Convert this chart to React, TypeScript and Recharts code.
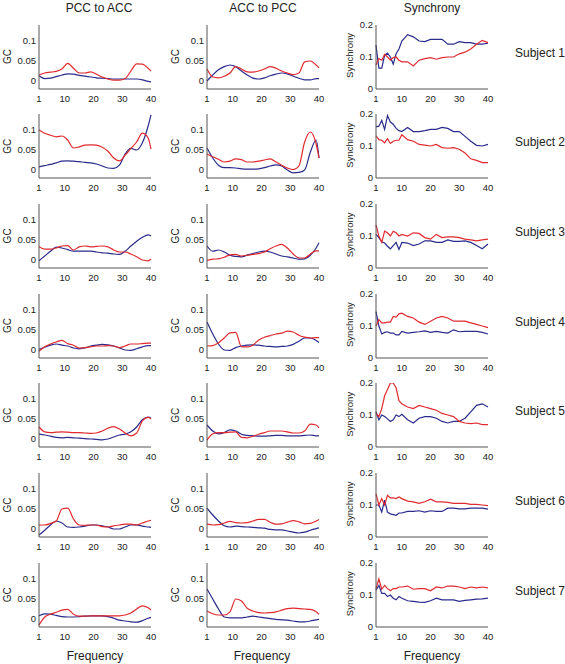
import React from 'react';
import { LineChart, Line, XAxis, YAxis } from 'recharts';

// frequencies sampled for the GC panels and for the synchrony panels
const GC_FREQ = [1, 3, 5, 7, 9, 11, 13, 15, 17, 19, 21, 23, 25, 27, 29, 31, 33, 35, 37, 39, 40];
const SYNC_FREQ = [1, 2, 3, 4, 5, 6, 7, 8, 9, 10, 12, 14, 16, 18, 20, 22, 24, 26, 28, 30, 32, 34, 36, 38, 40];
const FREQ_TICKS = [1, 10, 20, 30, 40];
const GC_TICKS = [0, 0.05, 0.1];
const SYNC_TICKS = [0, 0.1, 0.2];

const SUBJECTS = ['Subject 1', 'Subject 2', 'Subject 3', 'Subject 4', 'Subject 5', 'Subject 6', 'Subject 7'];
const COLUMN_TITLES = ['PCC to ACC', 'ACC to PCC', 'Synchrony'];

// one row per subject
const pccToAccRed = [
  [0.015, 0.02, 0.022, 0.024, 0.03, 0.044, 0.032, 0.02, 0.02, 0.023, 0.017, 0.01, 0.005, 0.002, 0.002, 0.006, 0.025, 0.043, 0.042, 0.032, 0.025],
  [0.1, 0.092, 0.087, 0.083, 0.085, 0.075, 0.055, 0.058, 0.062, 0.063, 0.062, 0.057, 0.047, 0.03, 0.023, 0.037, 0.054, 0.07, 0.092, 0.08, 0.052],
  [0.033, 0.027, 0.027, 0.03, 0.035, 0.036, 0.025, 0.033, 0.035, 0.033, 0.034, 0.035, 0.033, 0.025, 0.02, 0.02, 0.015, 0.008, 0.0, -0.002, 0.003],
  [-0.003, 0.008, 0.015, 0.02, 0.024, 0.016, 0.012, 0.005, 0.006, 0.008, 0.01, 0.01, 0.011, 0.01, 0.006, 0.01, 0.015, 0.015, 0.016, 0.017, 0.017],
  [0.03, 0.018, 0.016, 0.017, 0.018, 0.017, 0.016, 0.016, 0.015, 0.014, 0.015, 0.02, 0.027, 0.031, 0.025, 0.015, 0.008, 0.015, 0.045, 0.054, 0.05],
  [0.01, 0.01, 0.014, 0.02, 0.05, 0.052, 0.025, 0.01, 0.009, 0.01, 0.01, 0.006, 0.005, 0.008, 0.01, 0.012, 0.012, 0.01, 0.015, 0.02, 0.022],
  [-0.015, 0.005, 0.012, 0.017, 0.022, 0.024, 0.012, 0.007, 0.007, 0.008, 0.008, 0.008, 0.008, 0.008, 0.008, 0.01, 0.015, 0.025, 0.033, 0.028, 0.023],
];
const pccToAccBlue = [
  [0.013, 0.006, 0.007, 0.011, 0.015, 0.018, 0.017, 0.014, 0.012, 0.01, 0.008, 0.007, 0.006, 0.005, 0.005, 0.005, 0.005, 0.005, 0.003, -0.001, -0.002],
  [0.008, 0.011, 0.014, 0.018, 0.022, 0.023, 0.022, 0.021, 0.019, 0.018, 0.015, 0.01, 0.005, 0.004, 0.012, 0.04, 0.054, 0.05, 0.068, 0.11, 0.138],
  [-0.002, 0.01, 0.022, 0.032, 0.03, 0.026, 0.022, 0.022, 0.022, 0.022, 0.02, 0.018, 0.017, 0.015, 0.014, 0.022, 0.035, 0.047, 0.057, 0.063, 0.06],
  [0.002, 0.007, 0.012, 0.015, 0.012, 0.01, 0.005, 0.003, 0.005, 0.01, 0.012, 0.014, 0.013, 0.01, 0.005, 0.0, -0.001, 0.003, 0.008, 0.011, 0.011],
  [0.012, 0.01, 0.007, 0.004, 0.003, 0.004, 0.003, 0.002, 0.001, 0.0, -0.001, -0.002, 0.0, 0.005, 0.01, 0.012, 0.018, 0.03, 0.048, 0.055, 0.052],
  [-0.015, -0.003, 0.01, 0.02, 0.015, 0.005, 0.004, 0.005, 0.007, 0.01, 0.01, 0.008, 0.005, 0.0, 0.0, 0.005, 0.01, 0.01, 0.007, 0.005, 0.004],
  [0.008, 0.013, 0.012, 0.009, 0.006, 0.005, 0.005, 0.006, 0.007, 0.008, 0.008, 0.008, 0.006, 0.002, -0.003, -0.005, -0.007, -0.008, -0.004, 0.002, 0.004],
];
const accToPccRed = [
  [0.03, 0.01, 0.008, 0.012, 0.02, 0.036, 0.03, 0.023, 0.022, 0.025, 0.03, 0.036, 0.032, 0.025, 0.02, 0.016, 0.02, 0.048, 0.05, 0.04, 0.033],
  [0.04, 0.033, 0.027, 0.02, 0.022, 0.028, 0.026, 0.02, 0.02, 0.022, 0.025, 0.028, 0.02, 0.012, 0.005, 0.001, 0.01, 0.07, 0.095, 0.065, 0.03],
  [-0.001, 0.002, 0.003, 0.007, 0.013, 0.014, 0.01, 0.012, 0.014, 0.016, 0.02, 0.028, 0.035, 0.039, 0.03, 0.015, 0.005, 0.005, 0.015, 0.023, 0.023],
  [0.01, 0.011, 0.018, 0.03, 0.043, 0.044, 0.008, 0.008, 0.012, 0.025, 0.032, 0.036, 0.04, 0.042, 0.047, 0.045, 0.037, 0.032, 0.03, 0.031, 0.031],
  [-0.003, 0.013, 0.016, 0.016, 0.017, 0.018, 0.004, 0.003, 0.007, 0.012, 0.016, 0.02, 0.02, 0.02, 0.018, 0.015, 0.015, 0.02, 0.037, 0.035, 0.028],
  [0.012, 0.01, 0.011, 0.015, 0.019, 0.016, 0.015, 0.016, 0.02, 0.024, 0.024, 0.017, 0.012, 0.013, 0.017, 0.021, 0.018, 0.013, 0.014, 0.02, 0.024],
  [0.02, 0.013, 0.01, 0.01, 0.018, 0.05, 0.045, 0.027, 0.02, 0.016, 0.015, 0.016, 0.018, 0.022, 0.026, 0.027, 0.026, 0.025, 0.024, 0.018, 0.012],
];
const accToPccBlue = [
  [0.0, 0.015, 0.028, 0.036, 0.04, 0.036, 0.025, 0.015, 0.007, 0.005, 0.008, 0.013, 0.017, 0.02, 0.018, 0.012, 0.007, 0.003, 0.003, 0.006, 0.006],
  [0.055, 0.03, 0.012, 0.006, 0.006, 0.005, 0.003, 0.002, 0.002, 0.003, 0.006, 0.01, 0.013, 0.01, 0.0, -0.007, -0.006, 0.0, 0.045, 0.075, 0.03],
  [0.035, 0.022, 0.025, 0.02, 0.012, 0.009, 0.008, 0.012, 0.016, 0.02, 0.022, 0.02, 0.015, 0.01, 0.008, 0.005, 0.002, 0.003, 0.012, 0.03, 0.043],
  [0.07, 0.04, 0.015, 0.0, -0.001, 0.006, 0.01, 0.012, 0.013, 0.012, 0.01, 0.009, 0.008, 0.009, 0.01, 0.014, 0.022, 0.03, 0.03, 0.024, 0.019],
  [0.035, 0.02, 0.013, 0.016, 0.023, 0.02, 0.012, 0.009, 0.008, 0.007, 0.007, 0.008, 0.009, 0.009, 0.008, 0.008, 0.008, 0.009, 0.01, 0.008, 0.008],
  [0.052, 0.035, 0.02, 0.008, 0.005, 0.007, 0.006, 0.005, 0.004, 0.003, 0.002, -0.001, -0.002, -0.002, -0.005, -0.008, -0.01, -0.008, -0.003, 0.001, 0.003],
  [0.075, 0.05, 0.025, 0.005, 0.003, 0.003, 0.003, 0.005, 0.007, 0.005, 0.003, 0.001, -0.001, -0.002, -0.003, -0.005, -0.007, -0.007, -0.005, -0.002, -0.001],
];
const syncRed = [
  [0.075, 0.095, 0.09, 0.108, 0.1, 0.09, 0.098, 0.1, 0.09, 0.085, 0.085, 0.072, 0.09, 0.095, 0.098, 0.093, 0.098, 0.1, 0.1, 0.11, 0.115, 0.125, 0.14, 0.152, 0.145],
  [0.132, 0.12, 0.118, 0.11, 0.123, 0.108, 0.115, 0.118, 0.118, 0.135, 0.12, 0.115, 0.105, 0.103, 0.1, 0.105, 0.095, 0.093, 0.095, 0.09, 0.078, 0.06, 0.055, 0.048, 0.048],
  [0.135, 0.1, 0.08, 0.115, 0.11, 0.1, 0.115, 0.11, 0.1, 0.105, 0.1, 0.11, 0.108, 0.095, 0.09, 0.105, 0.095, 0.097, 0.097, 0.095, 0.09, 0.088, 0.085, 0.088, 0.09],
  [0.1, 0.12, 0.11, 0.11, 0.112, 0.112, 0.13, 0.128, 0.138, 0.14, 0.13, 0.125, 0.112, 0.105, 0.115, 0.125, 0.13, 0.125, 0.115, 0.115, 0.115, 0.11, 0.105, 0.1, 0.095],
  [0.105, 0.095, 0.12, 0.16, 0.18, 0.2, 0.2, 0.185, 0.145, 0.135, 0.125, 0.12, 0.13, 0.125, 0.12, 0.115, 0.105, 0.1, 0.095, 0.08, 0.075, 0.073, 0.075, 0.07, 0.07],
  [0.135, 0.1, 0.12, 0.1, 0.13, 0.122, 0.122, 0.12, 0.125, 0.12, 0.112, 0.11, 0.105, 0.11, 0.118, 0.11, 0.11, 0.108, 0.105, 0.105, 0.105, 0.102, 0.102, 0.1, 0.098],
  [0.12, 0.15, 0.118, 0.13, 0.12, 0.113, 0.12, 0.12, 0.125, 0.125, 0.128, 0.118, 0.12, 0.12, 0.113, 0.125, 0.122, 0.128, 0.128, 0.125, 0.12, 0.125, 0.122, 0.125, 0.122],
];
const syncBlue = [
  [0.137, 0.065, 0.065, 0.105, 0.112, 0.1, 0.078, 0.11, 0.125, 0.15, 0.17, 0.163, 0.15, 0.148, 0.155, 0.155, 0.155, 0.14, 0.14, 0.148, 0.145, 0.145, 0.14, 0.14, 0.143],
  [0.16, 0.162, 0.18, 0.152, 0.195, 0.175, 0.168, 0.155, 0.148, 0.145, 0.158, 0.145, 0.145, 0.148, 0.152, 0.152, 0.158, 0.155, 0.145, 0.145, 0.13, 0.115, 0.102, 0.1, 0.105],
  [0.105, 0.095, 0.082, 0.078, 0.068, 0.06, 0.07, 0.08, 0.058, 0.08, 0.078, 0.07, 0.075, 0.085, 0.085, 0.08, 0.08, 0.088, 0.083, 0.083, 0.085, 0.08, 0.07, 0.06, 0.075],
  [0.145, 0.1, 0.075, 0.08, 0.082, 0.078, 0.078, 0.072, 0.072, 0.083, 0.078, 0.08, 0.082, 0.085, 0.08, 0.083, 0.08, 0.078, 0.088, 0.082, 0.083, 0.083, 0.083, 0.08, 0.075],
  [0.11, 0.085, 0.1, 0.095, 0.088, 0.08, 0.085, 0.1, 0.095, 0.102, 0.085, 0.075, 0.09, 0.095, 0.095, 0.09, 0.08, 0.075, 0.08, 0.08, 0.09, 0.11, 0.13, 0.135, 0.125],
  [0.1, 0.1, 0.078, 0.115, 0.078, 0.072, 0.07, 0.068, 0.075, 0.075, 0.08, 0.08, 0.082, 0.078, 0.082, 0.08, 0.08, 0.09, 0.09, 0.088, 0.088, 0.09, 0.09, 0.09, 0.087],
  [0.115, 0.13, 0.105, 0.105, 0.095, 0.1, 0.09, 0.085, 0.095, 0.09, 0.082, 0.08, 0.078, 0.077, 0.082, 0.09, 0.085, 0.085, 0.085, 0.08, 0.083, 0.085, 0.087, 0.088, 0.09],
];

const RED = '#E02A2F';
const BLUE = '#2B2B8C';
const AXIS = '#555';
const TEXT = '#222';
const FONT = '"Liberation Sans", Arial, Helvetica, sans-serif';

// layout of the plot areas
const COL_LEFT = [38.5, 206.5, 376];
const COL_CENTER = [99, 263, 432];
const FREQ_CENTER = [95, 262, 432];
const ROW_TOP = 24.5;
const ROW_STEP = 89.7;
const PLOT_W = 112;
const PLOT_H = 64;
const Y_W = 36;
const X_H = 22;
const M_T = 8;
const M_R = 6;

type PanelProps = {
  left: number;
  top: number;
  freq: number[];
  red: number[];
  blue: number[];
  sync?: boolean;
};

const Panel = ({ left, top, freq, red, blue, sync }: PanelProps) => {
  const data = freq.map((f, i) => ({ f, red: red[i], blue: blue[i] }));
  const tick = { fontSize: 9.5, fill: TEXT, fontFamily: FONT };
  return (
    <div style={{ position: 'absolute', left: left - Y_W, top: top - M_T }}>
      <LineChart
        width={Y_W + PLOT_W + M_R}
        height={M_T + PLOT_H + X_H}
        data={data}
        margin={{ top: M_T, right: M_R, left: 0, bottom: 0 }}
      >
        <XAxis
          dataKey="f"
          type="number"
          domain={[1, 40]}
          ticks={FREQ_TICKS}
          height={X_H}
          tick={tick}
          tickLine={false}
          tickSize={0}
          tickMargin={6}
          axisLine={{ stroke: AXIS }}
          interval={0}
        />
        <YAxis
          type="number"
          domain={sync ? [0, 0.2] : [-0.02, 0.14]}
          ticks={sync ? SYNC_TICKS : GC_TICKS}
          width={Y_W}
          tick={tick}
          tickLine={false}
          tickSize={0}
          tickMargin={3}
          axisLine={{ stroke: AXIS }}
          allowDataOverflow
          interval={0}
          tickFormatter={(v: number) => String(v)}
        />
        <Line
          dataKey="blue"
          type={sync ? 'linear' : 'monotone'}
          stroke={BLUE}
          strokeWidth={1.2}
          dot={false}
          isAnimationActive={false}
        />
        <Line
          dataKey="red"
          type={sync ? 'linear' : 'monotone'}
          stroke={RED}
          strokeWidth={1.2}
          dot={false}
          isAnimationActive={false}
        />
      </LineChart>
    </div>
  );
};

export default function App() {
  return (
    <div style={{ position: 'absolute', left: 0, top: 0, width: 565, height: 664, background: '#fff', fontFamily: FONT }}>
      {SUBJECTS.map((s, r) => {
        const top = ROW_TOP + r * ROW_STEP;
        return (
          <React.Fragment key={s}>
            <Panel left={COL_LEFT[0]} top={top} freq={GC_FREQ} red={pccToAccRed[r]} blue={pccToAccBlue[r]} />
            <Panel left={COL_LEFT[1]} top={top} freq={GC_FREQ} red={accToPccRed[r]} blue={accToPccBlue[r]} />
            <Panel left={COL_LEFT[2]} top={top} freq={SYNC_FREQ} red={syncRed[r]} blue={syncBlue[r]} sync />
          </React.Fragment>
        );
      })}
      <svg width={565} height={664} style={{ position: 'absolute', left: 0, top: 0, pointerEvents: 'none' }}>
        {COLUMN_TITLES.map((t, c) => (
          <text key={t} x={COL_CENTER[c]} y={12} textAnchor="middle" fontSize={12} fill={TEXT} fontFamily={FONT}>
            {t}
          </text>
        ))}
        {FREQ_CENTER.map((x, c) => (
          <text key={'freq' + c} x={x} y={660} textAnchor="middle" fontSize={12} fill={TEXT} fontFamily={FONT}>
            Frequency
          </text>
        ))}
        {SUBJECTS.map((s, r) => {
          const top = ROW_TOP + r * ROW_STEP;
          const mid = top + PLOT_H / 2;
          return (
            <g key={'lab' + s}>
              <text x={515} y={top + 32} fontSize={12} fill={TEXT} fontFamily={FONT}>
                {s}
              </text>
              {[10.5, 178.5].map((x) => (
                <text key={x} transform={`translate(${x},${mid}) rotate(-90)`} textAnchor="middle" fontSize={10} fill={TEXT} fontFamily={FONT}>
                  GC
                </text>
              ))}
              <text transform={`translate(352.5,${mid - 1}) rotate(-90)`} textAnchor="middle" fontSize={9.5} fill={TEXT} fontFamily={FONT}>
                Synchrony
              </text>
            </g>
          );
        })}
      </svg>
    </div>
  );
}
